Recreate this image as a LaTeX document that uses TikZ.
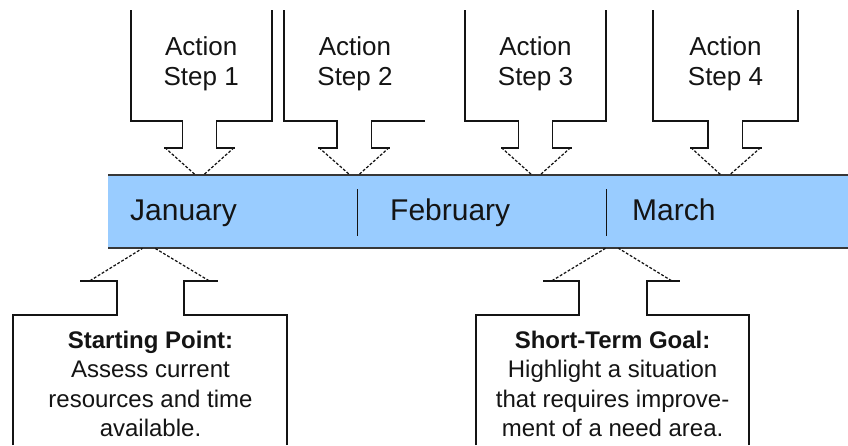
\documentclass[tikz,border=0pt]{standalone}
\usepackage{fontspec}
\setmainfont{Liberation Sans}
\definecolor{barblue}{HTML}{99CCFF}
\definecolor{ink}{HTML}{141414}
\begin{document}
\begin{tikzpicture}[x=1pt,y=-1pt,
  outline/.style={draw=ink,line width=1.7pt,line join=miter},
  headline/.style={draw=ink,line width=1.25pt,dash pattern=on 2.8pt off 1.8pt},
  barline/.style={draw=ink!85,line width=1.9pt},
  divider/.style={draw=ink,line width=1.8pt},
  month/.style={font=\fontsize{30}{36}\selectfont,text=ink,anchor=base west,inner sep=0pt},
  actiontext/.style={font=\fontsize{26}{30}\selectfont,text=ink,align=center,anchor=base,inner sep=0pt},
  notetext/.style={font=\fontsize{24}{29.3}\selectfont,text=ink,align=center,anchor=base,inner sep=0pt}]
\useasboundingbox (0,0) rectangle (848,445);
\fill[white] (0,0) rectangle (848,445);

% timeline bar
\fill[barblue] (108.3,175) rectangle (848,248.3);
\draw[barline] (108.3,175) -- (848,175);
\draw[barline] (108.3,248.3) -- (848,248.3);
\draw[divider] (357.5,189) -- (357.5,235.5);
\draw[divider] (606.5,189) -- (606.5,235.5);
\node[month] (jan) at (130,220) {January};
\node[month] (feb) at (390,220) {February};
\node[month] (mar) at (632,220) {March};

% Action Step 1 (centre 199.5)
\draw[outline] (130.7,10) -- (130.7,120.7) -- (182.5,120.7) -- (182.5,147.7) -- (164,147.7);
\draw[outline] (271.7,10) -- (271.7,120.7) -- (216.5,120.7) -- (216.5,147.7) -- (235,147.7);
\draw[headline] (165,147.7) -- (195.5,175);
\draw[headline] (234,147.7) -- (203.5,175);
\node[actiontext] (a1) at (201.2,85) {Action\\Step 1};

% Action Step 2 (centre 354)
\draw[outline] (284,10) -- (284,120.7) -- (337,120.7) -- (337,147.7) -- (318,147.7);
\draw[outline] (425,120.7) -- (371.5,120.7) -- (371.5,147.7) -- (390,147.7);
\draw[headline] (319,147.7) -- (350,175);
\draw[headline] (389,147.7) -- (358.5,175);
\node[actiontext] (a2) at (355,85) {Action\\Step 2};

% Action Step 3 (centre 535.5)
\draw[outline] (465,10) -- (465,120.7) -- (518.5,120.7) -- (518.5,147.7) -- (500.5,147.7);
\draw[outline] (606,10) -- (606,120.7) -- (552.5,120.7) -- (552.5,147.7) -- (571.5,147.7);
\draw[headline] (501.5,147.7) -- (532,175);
\draw[headline] (570.5,147.7) -- (540,175);
\node[actiontext] (a3) at (535.5,85) {Action\\Step 3};

% Action Step 4 (centre 725)
\draw[outline] (653.3,10) -- (653.3,120.7) -- (708,120.7) -- (708,147.7) -- (690,147.7);
\draw[outline] (797.7,10) -- (797.7,120.7) -- (742.5,120.7) -- (742.5,147.7) -- (761.5,147.7);
\draw[headline] (691,147.7) -- (721,175);
\draw[headline] (760.5,147.7) -- (729.5,175);
\node[actiontext] (a4) at (725.5,85) {Action\\Step 4};

% Starting Point (centre 149.5)
\draw[outline] (13.3,445) -- (13.3,315) -- (116.7,315) -- (116.7,280.7) -- (80,280.7);
\draw[outline] (287.3,445) -- (287.3,315) -- (184.3,315) -- (184.3,280.7) -- (218.3,280.7);
\draw[headline] (90,280.7) -- (142.5,248.3);
\draw[headline] (209,280.7) -- (155,248.3);
\node[notetext] (sp) at (150.5,436.3) {\textbf{Starting Point:}\\Assess current\\resources and time\\available.};

% Short-Term Goal (centre 612)
\draw[outline] (476,445) -- (476,315) -- (579,315) -- (579,280.7) -- (543,280.7);
\draw[outline] (749.3,445) -- (749.3,315) -- (646.7,315) -- (646.7,280.7) -- (680,280.7);
\draw[headline] (552,280.7) -- (605.5,248.3);
\draw[headline] (671.5,280.7) -- (618.5,248.3);
\node[notetext] (stg) at (612.6,436.3) {\textbf{Short-Term Goal:}\\Highlight a situation\\that requires improve-\\ment of a need area.};
\end{tikzpicture}
\end{document}
